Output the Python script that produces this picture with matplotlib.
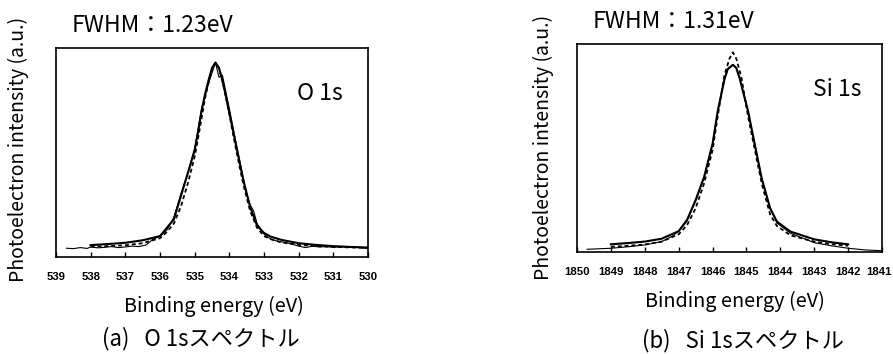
import matplotlib
matplotlib.use("Agg")
import matplotlib.pyplot as plt
import matplotlib.transforms as mtransforms

plt.rcParams['font.family'] = ['Noto Sans CJK JP', 'DejaVu Sans']

# ---------------- O 1s (left) ----------------
o_meas_E = [538.7, 538.5, 538.3, 538.1, 538.0, 537.8, 537.6, 537.4, 537.2, 537.0,
            536.8, 536.6, 536.4, 536.2, 536.0, 535.8, 535.6, 535.4, 535.2, 535.0,
            534.8, 534.6, 534.5, 534.4, 534.3, 534.2, 534.0, 533.8, 533.6, 533.5,
            533.4, 533.3, 533.2, 533.0, 532.8, 532.6, 532.4, 532.2, 532.0, 531.8,
            531.6, 531.4, 531.2, 531.0, 530.8, 530.6, 530.4, 530.2, 530.0]
o_meas_I = [0.042, 0.040, 0.045, 0.041, 0.048, 0.044, 0.046, 0.050, 0.045, 0.048,
            0.052, 0.050, 0.058, 0.085, 0.100, 0.130, 0.190, 0.300, 0.400, 0.520,
            0.710, 0.830, 0.880, 0.930, 0.860, 0.870, 0.710, 0.540, 0.380, 0.300,
            0.250, 0.220, 0.160, 0.110, 0.085, 0.075, 0.070, 0.062, 0.052, 0.045,
            0.052, 0.048, 0.050, 0.046, 0.050, 0.047, 0.050, 0.044, 0.040]

o_fit_E = [538.0, 537.5, 537.0, 536.5, 536.0, 535.8, 535.6, 535.4, 535.2, 535.0,
           534.9, 534.8, 534.7, 534.6, 534.5, 534.4, 534.3, 534.2, 534.1, 534.0,
           533.9, 533.8, 533.6, 533.4, 533.2, 533.0, 532.8, 532.5, 532.0, 531.5,
           531.0, 530.5, 530.0]
o_fit_I = [0.057, 0.062, 0.068, 0.080, 0.100, 0.140, 0.180, 0.290, 0.400, 0.510,
           0.600, 0.700, 0.780, 0.845, 0.905, 0.930, 0.905, 0.845, 0.770, 0.690,
           0.610, 0.530, 0.370, 0.240, 0.150, 0.115, 0.097, 0.082, 0.066, 0.058,
           0.052, 0.048, 0.045]
o_dash_I = [0.050, 0.052, 0.056, 0.066, 0.090, 0.120, 0.160, 0.240, 0.350, 0.480,
            0.570, 0.665, 0.760, 0.835, 0.900, 0.930, 0.905, 0.845, 0.765, 0.685,
            0.595, 0.510, 0.350, 0.220, 0.140, 0.100, 0.085, 0.070, 0.058, 0.052,
            0.048, 0.046, 0.044]

# ---------------- Si 1s (right) ----------------
si_meas_E = [1849.7, 1849.0, 1848.5, 1848.0, 1847.5, 1847.2, 1847.0, 1846.75, 1846.5,
             1846.25, 1846.0, 1845.85, 1845.65, 1845.55, 1845.4, 1845.3, 1845.2,
             1844.95, 1844.75, 1844.55, 1844.3, 1844.1, 1843.7, 1843.0, 1842.5,
             1842.0, 1841.5, 1841.0]
si_meas_I = [0.013, 0.018, 0.025, 0.034, 0.050, 0.075, 0.100, 0.150, 0.245,
             0.360, 0.520, 0.675, 0.830, 0.880, 0.900, 0.885, 0.835,
             0.675, 0.514, 0.354, 0.210, 0.140, 0.090, 0.045, 0.030,
             0.018, 0.010, 0.006]

si_fit_E = [1849.0, 1848.5, 1848.0, 1847.5, 1847.0, 1846.75, 1846.5, 1846.25, 1846.0,
            1845.85, 1845.65, 1845.55, 1845.4, 1845.3, 1845.2, 1844.95, 1844.75,
            1844.55, 1844.3, 1844.1, 1843.7, 1843.0, 1842.5, 1842.0]
si_fit_I = [0.037, 0.043, 0.050, 0.064, 0.100, 0.155, 0.250, 0.360, 0.520,
            0.675, 0.830, 0.880, 0.900, 0.885, 0.835, 0.675, 0.514,
            0.354, 0.210, 0.146, 0.098, 0.061, 0.047, 0.037]

si_dash_E = [1849.0, 1848.5, 1848.0, 1847.5, 1847.0, 1846.75, 1846.5, 1846.25, 1846.0,
             1845.85, 1845.65, 1845.5, 1845.4, 1845.3, 1845.15, 1844.95, 1844.75,
             1844.55, 1844.3, 1844.1, 1843.7, 1843.0, 1842.5, 1842.0]
si_dash_I = [0.025, 0.030, 0.036, 0.050, 0.085, 0.130, 0.210, 0.330, 0.490,
             0.650, 0.850, 0.930, 0.960, 0.930, 0.840, 0.650, 0.490,
             0.330, 0.180, 0.125, 0.080, 0.050, 0.038, 0.030]

o_ticks = [539, 538, 537, 536, 535, 534, 533, 532, 531, 530]
si_ticks = [1850, 1849, 1848, 1847, 1846, 1845, 1844, 1843, 1842, 1841]

ylabel = "Photoelectron intensity (a.u.)"
xlabel = "Binding energy (eV)"

W, H = 893, 354
fig = plt.figure(figsize=(W / 100, H / 100), dpi=100)

def px_axes(x0, x1, ytop, ybot):
    return fig.add_axes([x0 / W, 1 - ybot / H, (x1 - x0) / W, (ybot - ytop) / H])

def style(ax, ticks):
    ax.set_xlim(ticks[0], ticks[-1])
    ax.set_ylim(0, 1)
    ax.set_xticks(ticks)
    ax.set_xticklabels([str(t) for t in ticks], fontfamily='Liberation Sans',
                       fontweight='bold', fontsize=8.2)
    ax.set_yticks([])
    ax.tick_params(axis='x', direction='in', length=3.5, width=1, pad=11)
    for s in ax.spines.values():
        s.set_linewidth(1.2)

ax1 = px_axes(56, 368, 48, 257)
ax1.plot(o_meas_E, o_meas_I, color='black', lw=0.8)
ax1.plot(o_fit_E, o_fit_I, color='black', lw=1.5)
ax1.plot(o_fit_E, o_dash_I, color='black', lw=1.3, ls=(0, (2.2, 1.6)))
style(ax1, o_ticks)

ax2 = px_axes(577, 882, 44, 252)
ax2.plot(si_meas_E, si_meas_I, color='black', lw=0.8)
ax2.plot(si_fit_E, si_fit_I, color='black', lw=1.5)
ax2.plot(si_dash_E, si_dash_I, color='black', lw=1.3, ls=(0, (2.2, 1.6)))
style(ax2, si_ticks)
# nudge the last label so it stays inside the canvas
last = ax2.get_xticklabels()[-1]
last.set_transform(last.get_transform() +
                   mtransforms.ScaledTranslation(-3 / 100, 0, fig.dpi_scale_trans))

def ftext(x, y, s, size, ha='center', rot=0):
    fig.text(x / W, 1 - y / H, s, fontsize=size, ha=ha, va='center', rotation=rot)

ftext(72, 25, "FWHM：1.23eV", 16.5, ha='left')
ftext(593, 22, "FWHM：1.31eV", 16.5, ha='left')
ftext(18, 149, ylabel, 14, rot=90)
ftext(543, 147, ylabel, 14, rot=90)
ftext(297, 93, "O 1s", 16.5, ha='left')
ftext(813, 90, "Si 1s", 16.5, ha='left')
ftext(214, 306, xlabel, 14.3)
ftext(735, 301, xlabel, 14.3)
ftext(201, 339, "(a)   O 1sスペクトル", 16)
ftext(743, 341, "(b)   Si 1sスペクトル", 16)

fig.savefig("out.png", dpi=100)
